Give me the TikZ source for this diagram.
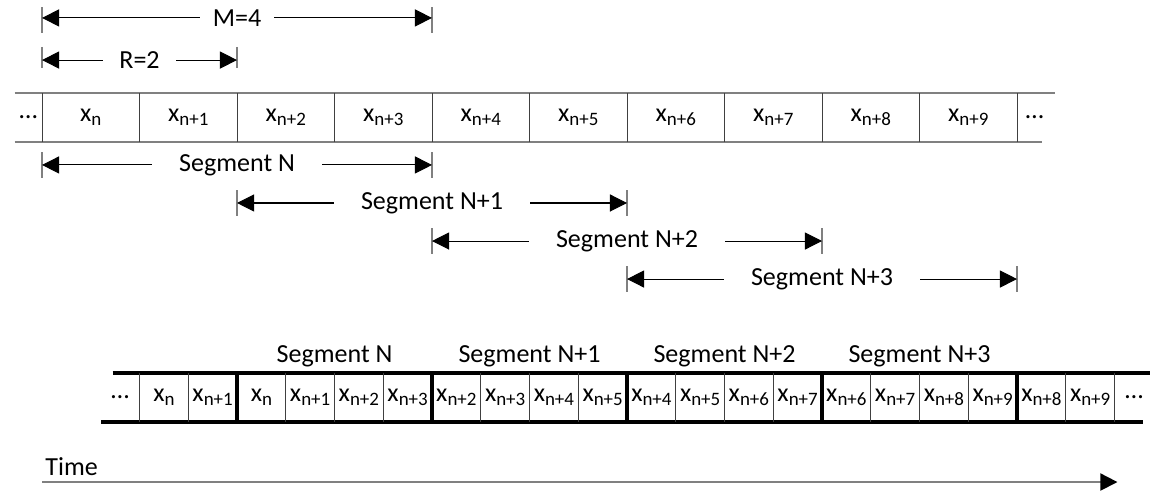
\documentclass[tikz,border=0pt]{standalone}
\usepackage{fontspec}
\setmainfont{Carlito}
\usetikzlibrary{arrows.meta}
\newcommand\xs[1]{x\raisebox{-.35ex}{\fontsize{8.3}{9}\selectfont#1}}
\tikzset{
  dim/.style={line width=.45pt,{Triangle[length=7.5pt,width=7.5pt]}-{Triangle[length=7.5pt,width=7.5pt]}},
  tick/.style={gray,line width=.6pt},
  lbl/.style={fill=white,inner ysep=1pt},
  thick sep/.style={line width=1.75pt},
  thin sep/.style={black!75,line width=.45pt}
}
\begin{document}
\begin{tikzpicture}[x=1.5cm,y=1.5cm,font=\fontsize{11.4}{13}\selectfont]
\useasboundingbox (-0.431,0.954) rectangle (11.364,-4.103);
% upper row of samples
\draw[gray,line width=.8pt](-0.28,0)--(10.39,0) (-0.28,-0.5)--(10.26,-0.5);
\foreach \i in {0,...,10} \draw[thin sep](\i,0)--(\i,-0.5);
\node (u0) at (-0.14,-0.25) {\dots};
\node (u1) at (10.18,-0.25) {\dots};
\node (x0) at (0.5,-0.25) {\xs{n}};
\foreach \i in {1,...,9} \node (x\i) at (\i+0.5,-0.25) {\xs{n+\i}};
% M and R
\draw[tick](0,0.882)--(0,0.615) (4,0.882)--(4,0.615)
           (0,0.472)--(0,0.256) (2,0.472)--(2,0.256);
\coordinate (m0) at (0,0.77); \coordinate (m1) at (4,0.77);
\coordinate (r0) at (0,0.338); \coordinate (r1) at (2,0.338);
\draw[dim](m0)--(m1) node[midway,lbl,inner xsep=5.5pt](mlab){M=4};
\draw[dim](r0)--(r1) node[midway,lbl,inner xsep=7pt](rlab){R=2};
% segments
\foreach \s/\t in {0/N,1/N+1,2/N+2,3/N+3}{
  \draw[tick](2*\s,-0.608-0.39*\s)--(2*\s,-0.868-0.39*\s)
             (2*\s+4,-0.608-0.39*\s)--(2*\s+4,-0.868-0.39*\s);
  \coordinate (s\s a) at (2*\s,-0.738-0.39*\s);
  \coordinate (s\s b) at (2*\s+4,-0.738-0.39*\s);
  \draw[dim](s\s a)--(s\s b) node[midway,lbl,inner xsep=12pt](seg\s){Segment \t};
}
% lower row, one frame per segment
\draw[thick sep](0.725,-2.87)--(11.36,-2.87) (0.61,-3.37)--(11.29,-3.37);
\foreach \i in {1,1.5,2.5,3,3.5,4.5,5,5.5,6.5,7,7.5,8.5,9,9.5,10.5,11}
  \draw[thin sep](\i,-2.87)--(\i,-3.37);
\foreach \i in {2,4,6,8,10} \draw[thick sep](\i,-2.87)--(\i,-3.37);
\node (l0) at (0.8,-3.12) {\dots};
\node (l1) at (11.2,-3.12) {\dots};
\node (y0) at (1.25,-3.12) {\xs{n}};
\node (y1) at (1.75,-3.12) {\xs{n+1}};
\foreach \s/\t in {0/N,1/N+1,2/N+2,3/N+3}{
  \node (f\s) at (2*\s+3,-2.697) {Segment \t};
  \foreach \j in {0,...,3}{
    \pgfmathtruncatemacro\k{2*\s+\j}
    \ifnum\k=0 \node (y\s\j) at (2*\s+2.25+0.5*\j,-3.12) {\xs{n}};
    \else \node (y\s\j) at (2*\s+2.25+0.5*\j,-3.12) {\xs{n+\k}};\fi
  }
}
\node (y8) at (10.25,-3.12) {\xs{n+8}};
\node (y9) at (10.75,-3.12) {\xs{n+9}};
% time axis
\node[anchor=west,inner sep=0pt] (time) at (0.03,-3.83) {Time};
\coordinate (t0) at (0,-3.99); \coordinate (t1) at (11.03,-3.99);
\draw[gray,line width=.8pt,-{Triangle[length=7.5pt,width=7.5pt,color=black]}](t0)--(t1);
\end{tikzpicture}
\end{document}
